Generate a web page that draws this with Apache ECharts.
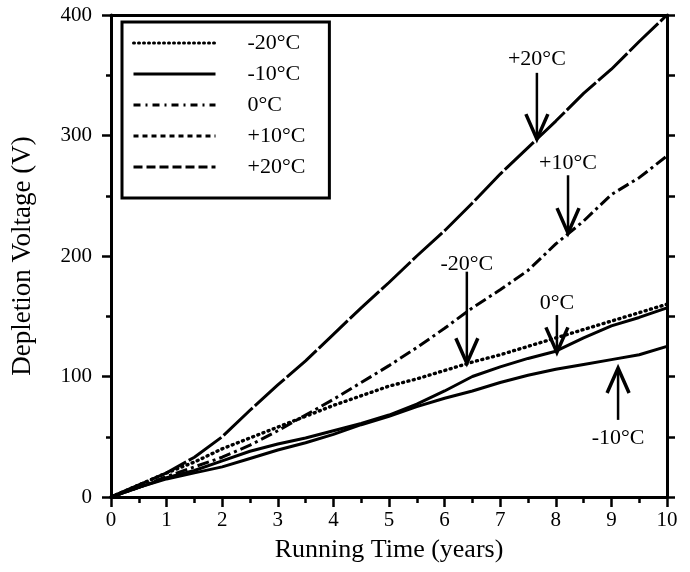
<!DOCTYPE html>
<html>
<head>
<meta charset="utf-8">
<script src="https://cdn.jsdelivr.net/npm/echarts@6/dist/echarts.min.js"></script>
<style>
html,body{margin:0;padding:0;background:#fff;}
#chart{width:690px;height:572px;}
</style>
</head>
<body>
<div id="chart"></div>
<script>
// ---- data ----
var years = [0, 0.5, 1, 1.5, 2, 2.5, 3, 3.5, 4, 4.5, 5, 5.5, 6, 6.5, 7, 7.5, 8, 8.5, 9, 9.5, 10];
var seriesNames = ['-20°C', '-10°C', '0°C', '+10°C', '+20°C'];
var vMinus20 = [0, 10, 20, 29, 40, 49, 58, 67, 76, 84, 92, 98, 105, 112, 118, 125, 132, 139, 146, 153, 160];
var vMinus10 = [0, 8, 15, 20, 25, 32, 39, 45, 52, 60, 67, 75, 82, 88, 95, 101, 106, 110, 114, 118, 125];
var vZero    = [0, 8, 16, 22, 30, 38, 44, 49, 55, 61, 68, 77, 88, 100, 108, 115, 121, 132, 142, 149, 157];
var vPlus10  = [0, 8, 17, 25, 33, 43, 55, 68, 81, 95, 109, 124, 140, 157, 172, 188, 210, 229, 251, 265, 283];
var vPlus20  = [0, 10, 20, 33, 50, 72, 93, 113, 135, 157, 178, 200, 221, 244, 268, 290, 312, 335, 355, 378, 400];
var xTicks = [0, 1, 2, 3, 4, 5, 6, 7, 8, 9, 10];
var yTicks = [0, 100, 200, 300, 400];
// annotations (data coordinates)
var annoLabels = ['+20°C', '+10°C', '-20°C', '0°C', '-10°C'];
var annoX      = [7.66, 8.22, 6.4, 8.02, 9.12];
var annoTextY  = [363, 277, 193, 161, 49];
var annoFromY  = [352, 267, 187, 151, 64];
var annoToY    = [297, 219, 111, 120, 107];

function pairs(v){ return years.map(function(x,i){ return [x, v[i]]; }); }

var FONT = '"Liberation Serif", "Times New Roman", serif';
var chart = echarts.init(document.getElementById('chart'));

var lineDefs = [
  {name: seriesNames[0], data: vMinus20, type: [1, 4.5], cap: 'round', width: 3.4},
  {name: seriesNames[1], data: vMinus10, type: 'solid', cap: 'butt', width: 3},
  {name: seriesNames[2], data: vZero, type: 'solid', cap: 'butt', width: 3},
  {name: seriesNames[3], data: vPlus10, type: [12, 4, 3, 4], cap: 'butt', width: 3},
  {name: seriesNames[4], data: vPlus20, type: [40, 3], cap: 'butt', width: 3}
];

var series = lineDefs.map(function(d){
  return {
    name: d.name, type: 'line', data: pairs(d.data), symbol: 'none', showSymbol: false, smooth: false,
    lineStyle: {color: '#000', width: d.width, type: d.type, cap: d.cap},
    itemStyle: {color: '#000'}, z: 3, animation: false
  };
});

series.push({
  type: 'custom', coordinateSystem: 'cartesian2d', xAxisIndex: 0, yAxisIndex: 0,
  animation: false, silent: true, clip: false, z: 5,
  data: annoX.map(function(x, i){ return [x, annoTextY[i], annoFromY[i], annoToY[i], i]; }),
  renderItem: function(params, api){
    var x = api.value(0);
    var t = api.coord([x, api.value(1)]);
    var f = api.coord([x, api.value(2)]);
    var p = api.coord([x, api.value(3)]);
    var dir = p[1] > f[1] ? 1 : -1;
    var idx = api.value(4);
    return {
      type: 'group',
      children: [
        {type: 'line', shape: {x1: f[0], y1: f[1], x2: p[0], y2: p[1]}, style: {stroke: '#000', lineWidth: 2.5}},
        {type: 'polyline', shape: {points: [[p[0]-11, p[1]-dir*25], [p[0], p[1]], [p[0]+11, p[1]-dir*25]]},
          style: {stroke: '#000', lineWidth: 3.5, fill: null, lineJoin: 'miter'}},
        {type: 'text', style: {text: annoLabels[idx], x: t[0], y: t[1], align: 'center', verticalAlign: 'middle',
          font: '22px ' + FONT, fill: '#000'}}
      ]
    };
  }
});

var legendStyles = [
  {type: [1, 4], cap: 'round', width: 3},
  {type: 'solid', cap: 'butt', width: 3},
  {type: [7, 5, 2, 5], cap: 'butt', width: 3},
  {type: [5, 4], cap: 'butt', width: 3},
  {type: [9, 4], cap: 'butt', width: 3}
];

var option = {
  backgroundColor: '#fff',
  animation: false,
  grid: {left: 111, right: 23, top: 15, bottom: 75},
  legend: {
    orient: 'vertical', left: 122, top: 22,
    padding: [10, 24, 20, 10],
    itemWidth: 82, itemHeight: 14, itemGap: 9,
    borderColor: '#000', borderWidth: 3, backgroundColor: '#fff',
    textStyle: {fontFamily: FONT, fontSize: 22, color: '#000', padding: [0, 0, 0, 27]},
    data: seriesNames.map(function(n, i){
      return {name: n,
        itemStyle: {opacity: 0, color: 'rgba(0,0,0,0)', borderWidth: 0},
        lineStyle: {color: '#000', width: legendStyles[i].width, type: legendStyles[i].type, cap: legendStyles[i].cap}};
    }),
    selectedMode: false, z: 10
  },
  xAxis: [{
    type: 'value', min: 0, max: 10, interval: 1,
    name: 'Running Time (years)', nameLocation: 'middle', nameGap: 40,
    nameTextStyle: {fontFamily: FONT, fontSize: 26, color: '#000'},
    axisLine: {show: true, onZero: false, lineStyle: {color: '#000', width: 3}},
    axisTick: {show: true, length: 10, lineStyle: {color: '#000', width: 2.5}},
    minorTick: {show: true, splitNumber: 2, length: 6, lineStyle: {color: '#000', width: 2.5}},
    axisLabel: {fontFamily: FONT, fontSize: 21, color: '#000', margin: 13,
      formatter: function(v){ return xTicks.indexOf(v) >= 0 ? String(v) : ''; }},
    splitLine: {show: false}
  }, {
    type: 'value', min: 0, max: 10, position: 'top',
    axisLine: {show: true, onZero: false, lineStyle: {color: '#000', width: 3}},
    axisTick: {show: false}, axisLabel: {show: false}, splitLine: {show: false}
  }],
  yAxis: [{
    type: 'value', min: 0, max: 400, interval: 100,
    name: 'Depletion Voltage (V)', nameLocation: 'middle', nameGap: 75,
    nameTextStyle: {fontFamily: FONT, fontSize: 27, color: '#000'},
    axisLine: {show: true, onZero: false, lineStyle: {color: '#000', width: 3}},
    axisTick: {show: true, length: 9, lineStyle: {color: '#000', width: 2.5}},
    minorTick: {show: true, splitNumber: 2, length: 5, lineStyle: {color: '#000', width: 2.5}},
    axisLabel: {fontFamily: FONT, fontSize: 21, color: '#000', margin: 19,
      formatter: function(v){ return yTicks.indexOf(v) >= 0 ? String(v) : ''; }},
    splitLine: {show: false}
  }, {
    type: 'value', min: 0, max: 400, interval: 50, position: 'right',
    axisLine: {show: true, onZero: false, lineStyle: {color: '#000', width: 3}},
    axisTick: {show: true, length: 8, lineStyle: {color: '#000', width: 2.5}},
    axisLabel: {show: false}, splitLine: {show: false}
  }],
  series: series
};
chart.setOption(option);
</script>
</body>
</html>
